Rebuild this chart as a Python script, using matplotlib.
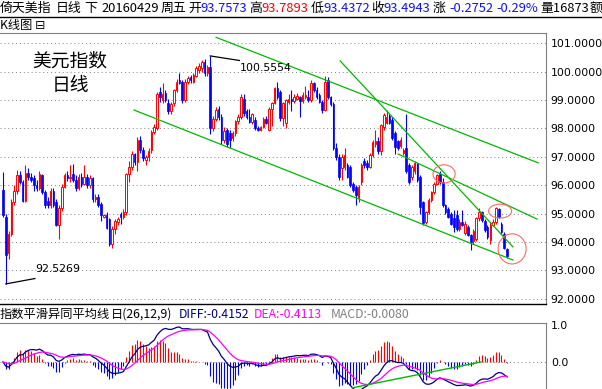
import matplotlib
matplotlib.use('Agg')
import matplotlib.pyplot as plt
import numpy as np
import pandas as pd
from matplotlib.patches import Ellipse
from matplotlib.lines import Line2D

# ---------------- data ----------------
opens = [95.84, 94.90, 93.60, 94.30, 95.40, 95.80, 96.35, 96.10, 95.45, 96.45,
         96.30, 96.25, 96.00, 95.90, 96.35, 95.75, 95.45, 95.30, 95.80, 95.40,
         94.60, 95.20, 95.95, 96.35, 96.25, 96.40, 96.20, 95.90, 96.30, 96.05,
         96.30, 96.00, 96.25, 95.50, 95.60, 95.35, 94.90, 94.95, 94.80, 93.95,
         94.45, 94.70, 94.98, 94.90, 95.05, 96.40, 96.65, 97.10, 96.82, 97.60,
         97.25, 96.90, 96.98, 97.25, 97.88, 98.00, 99.30, 99.00, 99.25, 98.90,
         98.60, 98.90, 99.35, 99.70, 99.65, 99.00, 99.65, 99.80, 99.65, 99.85,
         100.05, 100.12, 100.35, 99.95, 100.15, 98.00, 98.35, 98.70, 98.40, 97.60,
         97.95, 97.85, 97.65, 97.85, 98.25, 98.40, 99.05, 98.60, 98.40, 98.24,
         98.30, 98.00, 97.95, 98.05, 98.35, 97.95, 98.70, 98.89, 99.41, 99.30,
         98.36, 98.20, 98.95, 99.05, 98.98, 99.05, 99.10, 98.98, 99.10, 99.12,
         99.00, 99.60, 99.36, 99.18, 98.95, 98.65, 99.70, 99.10, 98.88, 97.30,
         97.00, 96.60, 96.65, 96.70, 96.65, 96.05, 95.95, 95.60, 96.10, 96.85,
         96.80, 96.65, 97.05, 97.45, 97.55, 97.20, 98.06, 98.20, 98.45, 98.30,
         97.83, 97.55, 97.40, 97.15, 97.30, 96.70, 96.30, 96.50, 96.77, 96.30,
         95.40, 94.70, 95.07, 95.48, 95.75, 96.06, 96.40, 96.12, 95.30, 95.15,
         95.00, 94.84, 94.95, 94.45, 94.72, 94.31, 94.54, 94.25, 94.05, 94.10,
         94.84, 95.07, 94.75, 94.54, 94.07, 94.60, 94.72, 95.15, 94.65, 94.30,
         93.7573]
highs = [96.48, 95.00, 94.40, 95.50, 96.00, 96.55, 96.50, 96.20, 96.70, 96.60,
         96.45, 96.35, 96.20, 96.50, 96.40, 95.85, 95.60, 95.90, 95.90, 95.50,
         95.30, 96.05, 96.45, 96.50, 96.70, 96.75, 96.35, 96.40, 96.45, 96.70,
         96.40, 96.35, 96.30, 95.70, 95.70, 95.40, 95.00, 95.05, 94.85, 94.55,
         94.80, 94.90, 95.05, 95.15, 96.45, 96.85, 97.20, 97.15, 97.70, 97.75,
         97.35, 97.05, 97.30, 97.95, 98.15, 99.30, 99.45, 99.60, 99.35, 99.05,
         98.95, 99.40, 99.75, 99.95, 99.70, 99.75, 99.85, 99.90, 99.95, 100.20,
         100.30, 100.40, 100.45, 100.25, 100.5554, 98.45, 98.75, 98.80, 98.50, 98.05,
         98.00, 97.95, 97.90, 98.30, 98.50, 99.20, 99.20, 98.70, 98.70, 98.55,
         98.40, 98.10, 98.10, 98.40, 98.45, 98.75, 98.95, 99.45, 99.65, 99.35,
         98.95, 99.05, 99.20, 99.35, 99.20, 99.25, 99.15, 99.30, 99.50, 99.35,
         99.70, 99.65, 99.45, 99.25, 99.00, 99.85, 99.80, 99.15, 98.95, 97.50,
         97.10, 97.10, 97.30, 96.80, 96.70, 96.10, 96.00, 96.00, 96.80, 96.95,
         96.90, 97.15, 97.60, 97.95, 97.70, 98.15, 98.55, 98.65, 98.50, 98.40,
         97.90, 97.60, 97.70, 97.30, 98.50, 96.80, 96.70, 96.85, 96.80, 96.35,
         95.45, 95.10, 95.55, 95.80, 96.10, 96.40, 96.50, 96.25, 95.35, 95.25,
         95.05, 95.13, 95.13, 94.80, 95.13, 94.75, 94.60, 94.30, 94.45, 94.90,
         95.19, 95.10, 94.80, 94.60, 94.70, 94.80, 95.25, 95.20, 94.70, 94.35,
         93.7893]
lows = [94.90, 92.5269, 93.40, 94.20, 95.30, 95.70, 96.05, 95.40, 95.40, 96.20,
        96.10, 95.80, 95.80, 95.85, 95.70, 95.20, 95.20, 95.20, 95.25, 94.55,
        94.10, 95.10, 95.90, 96.15, 96.10, 96.10, 95.80, 95.85, 95.95, 96.00,
        95.90, 95.90, 95.40, 95.40, 95.25, 94.75, 94.85, 94.45, 93.85, 93.80,
        94.30, 94.60, 94.65, 94.80, 94.95, 96.10, 96.55, 96.70, 96.50, 97.15,
        96.85, 96.70, 96.85, 97.15, 97.80, 97.95, 98.95, 98.90, 98.95, 98.50,
        98.50, 98.80, 99.30, 99.55, 98.90, 98.95, 99.55, 99.60, 99.60, 99.80,
        99.95, 100.00, 99.85, 99.85, 97.80, 97.90, 98.25, 98.30, 97.45, 97.50,
        97.35, 97.30, 97.55, 97.75, 98.15, 98.35, 98.45, 98.35, 98.20, 98.15,
        97.95, 97.90, 97.90, 98.00, 98.15, 97.90, 98.10, 98.85, 99.05, 98.25,
        98.10, 98.00, 98.85, 98.60, 98.90, 99.00, 98.40, 98.90, 99.05, 98.95,
        98.95, 99.30, 99.05, 98.90, 98.55, 98.60, 99.05, 98.80, 97.25, 96.90,
        96.20, 96.20, 96.55, 96.25, 95.95, 95.75, 95.30, 95.40, 96.00, 96.60,
        96.55, 96.60, 97.00, 97.35, 97.10, 97.05, 97.95, 98.15, 98.15, 97.60,
        97.10, 97.25, 97.30, 97.05, 96.45, 96.05, 96.20, 96.40, 96.10, 95.00,
        94.60, 94.65, 95.00, 95.40, 95.70, 96.00, 96.05, 95.25, 95.00, 94.85,
        94.60, 94.35, 94.40, 94.40, 94.55, 94.25, 94.20, 93.72, 93.95, 94.05,
        94.75, 94.70, 94.35, 94.10, 93.95, 94.55, 94.65, 94.85, 94.30, 93.75,
        93.4372]
closes = [94.95, 93.55, 94.30, 95.40, 95.80, 96.35, 96.10, 95.45, 96.45, 96.30,
          96.20, 96.00, 95.90, 96.40, 95.75, 95.30, 95.30, 95.80, 95.30, 94.60,
          95.20, 95.95, 96.35, 96.25, 96.30, 96.20, 95.90, 96.30, 96.05, 96.30,
          96.00, 96.25, 95.50, 95.60, 95.30, 94.95, 94.95, 94.50, 93.95, 94.45,
          94.75, 94.80, 94.90, 95.05, 96.40, 96.65, 97.10, 96.82, 97.60, 97.25,
          96.95, 96.98, 97.20, 97.88, 98.05, 99.23, 99.10, 99.20, 99.00, 98.60,
          98.85, 99.35, 99.65, 99.60, 99.00, 99.65, 99.77, 99.70, 99.88, 100.12,
          100.20, 100.35, 99.95, 100.15, 98.00, 98.35, 98.65, 98.40, 97.60, 97.90,
          97.45, 97.60, 97.85, 98.25, 98.42, 99.12, 98.55, 98.40, 98.24, 98.50,
          98.00, 97.95, 98.05, 98.35, 98.20, 98.70, 98.89, 99.41, 99.12, 98.36,
          98.89, 99.00, 99.05, 98.98, 99.12, 99.15, 98.98, 99.18, 99.18, 99.00,
          99.60, 99.36, 99.12, 98.95, 98.65, 99.65, 99.12, 98.88, 97.30, 97.00,
          96.30, 97.00, 97.06, 96.30, 96.00, 95.83, 95.66, 95.95, 96.70, 96.70,
          96.65, 97.06, 97.53, 97.55, 97.20, 98.12, 98.47, 98.41, 98.20, 97.65,
          97.36, 97.30, 97.60, 97.24, 96.50, 96.10, 96.65, 96.77, 96.18, 95.24,
          94.66, 95.07, 95.48, 95.75, 96.06, 96.36, 96.12, 95.30, 95.05, 94.90,
          94.65, 94.54, 94.45, 94.70, 94.60, 94.65, 94.25, 94.02, 94.40, 94.84,
          95.07, 94.78, 94.42, 94.19, 94.60, 94.72, 95.19, 94.90, 94.37, 93.80,
          93.4943]

price_ticks = [92, 93, 94, 95, 96, 97, 98, 99, 100, 101]
macd_ticks = [0.0, 1.0]
macd_fast, macd_slow, macd_signal = 12, 26, 9

high_label = "100.5554"
low_label = "92.5269"

# header row pieces (text, x pixel, colour)
header_texts = ["倚天美指", "日线", "下", "20160429", "周五", "开", "93.7573", "高", "93.7893",
                "低", "93.4372", "收", "93.4943", "涨", "-0.2752", "-0.29%", "量16873", "额"]
header_x = [0, 56, 84, 101, 161, 188, 200, 249, 261, 311, 323, 371, 383, 433, 449, 496, 540, 590]
header_colors = ['k', 'k', 'k', 'k', 'k', 'k', '#1010FF', 'k', '#FF0000', 'k', '#1010FF',
                 'k', '#1010FF', 'k', '#1010FF', '#1010FF', 'k', 'k']

macd_title_texts = ["指数平滑异同平均线", "日(26,12,9)", "DIFF:-0.4152", "DEA:-0.4113", "MACD:-0.0080"]
macd_title_x = [0, 111, 179, 254, 331]
macd_title_colors = ['k', 'k', '#000080', '#FF00FF', '#808080']

# trend lines (index, price) pairs
trend_lines = [((76.1, 101.21), (191.1, 96.79)),
               ((46.8, 98.65), (182.1, 93.37)),
               ((120.4, 100.38), (182.1, 93.83)),
               ((141.1, 97.10), (190.7, 94.81))]
# ellipses: centre index, centre price, width (index), height (price)
circles = [(157.5, 96.40, 7.9, 0.64),
           (177.5, 95.09, 8.2, 0.49),
           (181.8, 93.76, 10.0, 1.06)]
macd_trend = ((124.6, -0.70), (170.7, 0.0))

# ---------------- figure ----------------
W, H = 602, 389
fig = plt.figure(figsize=(W / 100, H / 100), dpi=100)
fig.patch.set_facecolor('white')


def fx(px):
    return px / W


def fy(py):
    return 1 - py / H


CJK = ['Noto Sans CJK SC', 'DejaVu Sans']

main_top, main_bot = 33.3, 304.0
macd_top = 322.7
x_right = 546.0

ax = fig.add_axes([0, fy(main_bot), fx(x_right), (main_bot - main_top) / H])
axm = fig.add_axes([0, 0, fx(x_right), (H - macd_top) / H])

n = len(closes)
idx = np.arange(n)
o = np.array(opens)
h = np.array(highs)
l = np.array(lows)
c = np.array(closes)
up = c >= o

RED = '#FF0000'
BLUE = '#0000FF'
wick_cols = [RED if u else BLUE for u in up]
ax.vlines(idx, l, h, colors=wick_cols, lw=0.8, zorder=2)

body_lo = np.minimum(o, c)
body_h = np.maximum(np.abs(c - o), 0.025)
ax.bar(idx[up], body_h[up], bottom=body_lo[up], width=0.55, facecolor='white',
       edgecolor=RED, linewidth=0.7, zorder=3)
ax.bar(idx[~up], body_h[~up], bottom=body_lo[~up], width=0.6, facecolor=BLUE,
       edgecolor=BLUE, linewidth=0.5, zorder=3)

for p in price_ticks:
    ax.axhline(p, color='#808080', lw=0.7, ls=(0, (1, 3)), zorder=0)

ax.set_xlim(-1.07, 193.9)
ax.set_ylim(91.82, 101.352)
ax.set_xticks([])
ax.yaxis.tick_right()
ax.set_yticks(price_ticks)
ax.set_yticklabels([f"{p:.4f}" for p in price_ticks])
ax.tick_params(axis='y', length=0, pad=3.5, labelsize=7.8)
for s in ['left']:
    ax.spines[s].set_visible(False)
ax.spines['top'].set_color('#808080')
ax.spines['right'].set_color('#808080')
ax.spines['bottom'].set_color('black')
ax.spines['bottom'].set_linewidth(1.0)

GREEN = '#00B800'
for (p0, p1) in trend_lines:
    ax.plot([p0[0], p1[0]], [p0[1], p1[1]], color=GREEN, lw=0.9, zorder=4)
for (ci, cp, w, hh) in circles:
    ax.add_patch(Ellipse((ci, cp), w, hh, fill=False, edgecolor='#FF6A6A', lw=0.8, zorder=5))

# high / low annotations
imax = int(np.argmax(h))
imin = int(np.argmin(l))
ax.plot([imax, imax + 10.4], [h[imax], h[imax] - 0.16], color='black', lw=0.9, zorder=5)
ax.text(imax + 10.6, h[imax] - 0.43, high_label, fontsize=7.9, va='center', ha='left',
        family='DejaVu Sans', zorder=6)
ax.plot([imin, imin + 10.4], [l[imin], l[imin] + 0.19], color='black', lw=0.9, zorder=5)
ax.text(imin + 10.5, l[imin] + 0.52, low_label, fontsize=7.9, va='center', ha='left',
        family='DejaVu Sans', zorder=6)

# ---------------- MACD ----------------
s = pd.Series(closes)
ema_f = s.ewm(span=macd_fast, adjust=False).mean()
ema_s = s.ewm(span=macd_slow, adjust=False).mean()
diff = ema_f - ema_s
dea = diff.ewm(span=macd_signal, adjust=False).mean()
hist = 2 * (diff - dea)

hcols = [RED if v >= 0 else BLUE for v in hist]
axm.vlines(idx, 0, hist.values, colors=hcols, lw=0.8, zorder=2)
axm.axhline(0, color='#808080', lw=0.7, ls=(0, (1, 3)), zorder=1)
axm.plot(idx, diff.values, color='#000080', lw=0.9, zorder=3)
axm.plot(idx, dea.values, color='#FF00FF', lw=0.9, zorder=3)
axm.plot([macd_trend[0][0], macd_trend[1][0]], [macd_trend[0][1], macd_trend[1][1]],
         color=GREEN, lw=1.0, zorder=4)

axm.set_xlim(-1.07, 193.9)
axm.set_ylim(-0.73, 1.062)
axm.set_xticks([])
axm.yaxis.tick_right()
axm.set_yticks(macd_ticks)
axm.set_yticklabels([f"{v:.1f}" for v in macd_ticks])
axm.tick_params(axis='y', length=0, pad=3.5, labelsize=7.8)
for sname in ['left', 'bottom']:
    axm.spines[sname].set_visible(False)
axm.spines['top'].set_color('#808080')
axm.spines['right'].set_color('#808080')

# ---------------- texts ----------------
for t, x, col in zip(header_texts, header_x, header_colors):
    fig.text(fx(x), fy(8.5), t, fontsize=9.3, family=CJK, color=col, va='center', ha='left')
fig.add_artist(Line2D([0, 1], [fy(16.7), fy(16.7)], color='black', lw=1.0,
                      transform=fig.transFigure))
fig.text(fx(0), fy(25.5), "K线图 ⊟", fontsize=8.8, family=CJK, va='center', ha='left')

fig.text(fx(32), fy(61), "美元指数", fontsize=13.5, family=CJK, va='center', ha='left')
fig.text(fx(52), fy(85.5), "日线", fontsize=13.5, family=CJK, va='center', ha='left')

for t, x, col in zip(macd_title_texts, macd_title_x, macd_title_colors):
    fig.text(fx(x), fy(314), t, fontsize=8.8, family=CJK, color=col, va='center', ha='left')

fig.savefig('out.png', dpi=100, facecolor='white')
